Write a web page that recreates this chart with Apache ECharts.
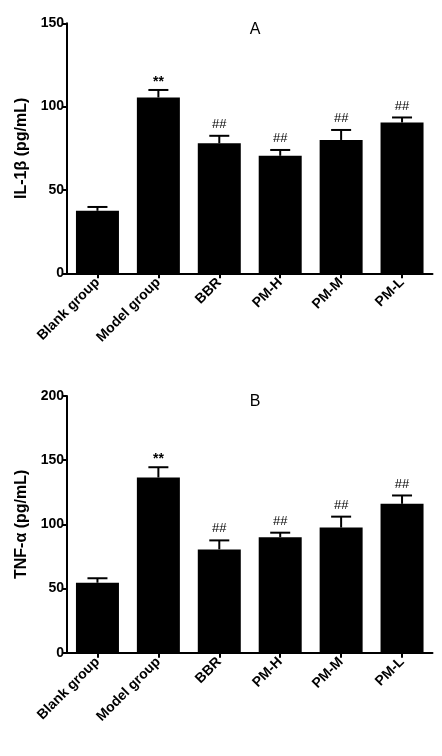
<!DOCTYPE html>
<html>
<head>
<meta charset="utf-8">
<script src="https://cdn.jsdelivr.net/npm/echarts@6/dist/echarts.min.js"></script>
<style>
html,body{margin:0;padding:0;background:#fff;}
#c{width:442px;height:756px;}
</style>
</head>
<body>
<div id="c"></div>
<script>
const categories = ['Blank group', 'Model group', 'BBR', 'PM-H', 'PM-M', 'PM-L'];
const il1bMean = [37.5, 105.5, 78, 70.5, 80, 90.5];
const il1bErr = [2.3, 4.5, 4.5, 3.5, 6, 3];
const tnfMean = [54.5, 136.5, 80.5, 90, 97.5, 116];
const tnfErr = [3.5, 8, 7, 3.5, 8.5, 6.5];
const marks = ['', '**', '##', '##', '##', '##'];
const yTicksA = [0, 50, 100, 150];
const yTicksB = [0, 50, 100, 150, 200];

const FONT = 'Liberation Sans, Arial, sans-serif';

function errData(mean, err) {
  return mean.map((v, i) => [i, v, err[i]]);
}

function errRender(params, api) {
  const i = api.value(0);
  const v = api.value(1);
  const e = api.value(2);
  const p0 = api.coord([i, v]);
  const p1 = api.coord([i, v + e]);
  const half = 10;
  const style = { stroke: '#000', lineWidth: 2 };
  const mark = marks[params.dataIndex];
  const children = [
    { type: 'line', shape: { x1: p0[0], y1: p0[1], x2: p1[0], y2: p1[1] }, style: style },
    { type: 'line', shape: { x1: p1[0] - half, y1: p1[1], x2: p1[0] + half, y2: p1[1] }, style: style }
  ];
  if (mark) {
    children.push({
      type: 'text',
      style: {
        text: mark,
        x: p1[0],
        y: p1[1] - (mark === '**' ? 1 : 5),
        align: 'center',
        verticalAlign: 'bottom',
        fill: '#000',
        font: (mark === '**' ? 'bold 14px ' : '13px ') + FONT
      }
    });
  }
  return { type: 'group', children: children };
}

const axisLineStyle = { show: true, lineStyle: { color: '#000', width: 2 } };
const tickStyle = { show: true, length: 5, lineStyle: { color: '#000', width: 2 } };

function xAxis(gridIndex) {
  return {
    type: 'category',
    gridIndex: gridIndex,
    data: categories,
    boundaryGap: true,
    axisLine: axisLineStyle,
    axisTick: Object.assign({ alignWithLabel: true }, tickStyle),
    axisLabel: {
      rotate: 45,
      interval: 0,
      margin: 7,
      color: '#000',
      fontFamily: FONT,
      fontWeight: 'bold',
      fontSize: 14
    }
  };
}

function yAxis(gridIndex, ticks, name) {
  return {
    type: 'value',
    gridIndex: gridIndex,
    min: ticks[0],
    max: ticks[ticks.length - 1],
    interval: ticks[1] - ticks[0],
    name: name,
    nameLocation: 'middle',
    nameGap: 37,
    nameTextStyle: { color: '#000', fontFamily: FONT, fontWeight: 'bold', fontSize: 16 },
    splitLine: { show: false },
    axisLine: axisLineStyle,
    axisTick: tickStyle,
    axisLabel: { color: '#000', fontFamily: FONT, fontWeight: 'bold', fontSize: 14, margin: 3 }
  };
}

const chart = echarts.init(document.getElementById('c'), null, { renderer: 'canvas' });
chart.setOption({
  animation: false,
  backgroundColor: '#fff',
  title: [
    { text: 'A', left: 250, top: 17, textAlign: 'center', textStyle: { fontFamily: FONT, fontWeight: 'normal', fontSize: 16, color: '#000' } },
    { text: 'B', left: 250, top: 389, textAlign: 'center', textStyle: { fontFamily: FONT, fontWeight: 'normal', fontSize: 16, color: '#000' } }
  ],
  grid: [
    { left: 67, top: 23.3, width: 365.5, height: 250 },
    { left: 67, top: 396, width: 365.5, height: 256.7 }
  ],
  xAxis: [xAxis(0), xAxis(1)],
  yAxis: [yAxis(0, yTicksA, 'IL-1β (pg/mL)'), yAxis(1, yTicksB, 'TNF-α (pg/mL)')],
  series: [
    { type: 'bar', xAxisIndex: 0, yAxisIndex: 0, data: il1bMean, barWidth: 43, itemStyle: { color: '#000' }, z: 2 },
    { type: 'custom', xAxisIndex: 0, yAxisIndex: 0, data: errData(il1bMean, il1bErr), renderItem: errRender, z: 3 },
    { type: 'bar', xAxisIndex: 1, yAxisIndex: 1, data: tnfMean, barWidth: 43, itemStyle: { color: '#000' }, z: 2 },
    { type: 'custom', xAxisIndex: 1, yAxisIndex: 1, data: errData(tnfMean, tnfErr), renderItem: errRender, z: 3 }
  ]
});
</script>
</body>
</html>
